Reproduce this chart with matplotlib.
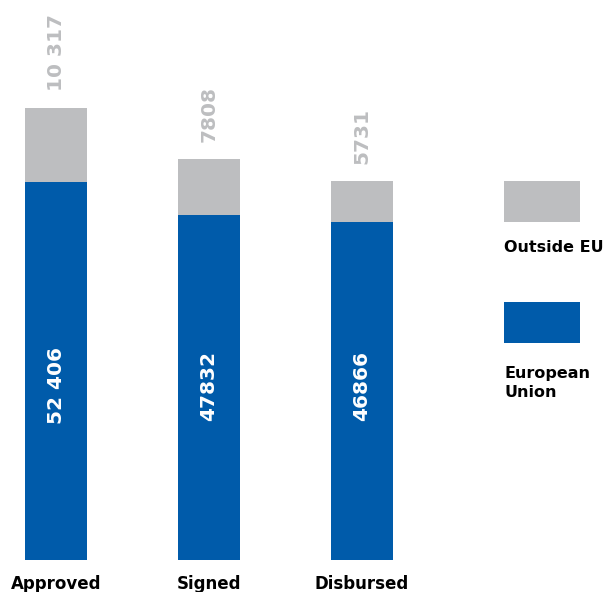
import matplotlib.pyplot as plt
from matplotlib.patches import Rectangle

# data
categories = ["Approved", "Signed", "Disbursed"]
eu_values = [52406, 47832, 46866]
outside_values = [10317, 7808, 5731]
eu_labels = ["52 406", "47832", "46866"]
outside_labels = ["10 317", "7808", "5731"]

BLUE = "#005BAA"
GREY = "#BDBEC0"

W, H = 611, 592
fig = plt.figure(figsize=(W / 100, H / 100), dpi=100)
# axes: bottom at 32 px, spans full width
ax = fig.add_axes([0, 32 / H, 1, (H - 32) / H])
ax.set_xlim(-56 / 153, (W - 56) / 153)
ax.set_ylim(0, 560 * 138.7)
ax.axis("off")

x = range(len(categories))
bw = 62 / 153
ax.bar(x, eu_values, width=bw, color=BLUE)
ax.bar(x, outside_values, width=bw, bottom=eu_values, color=GREY)

font = "DejaVu Sans"
for i in x:
    ax.text(i, 24200, eu_labels[i], rotation=90, ha="center", va="center",
            color="white", fontsize=14.5, fontweight="bold", family=font)
    ax.annotate(outside_labels[i], (i, eu_values[i] + outside_values[i]),
                xytext=(0, 12), textcoords="offset points", rotation=90,
                ha="center", va="bottom", color=GREY, fontsize=14.5,
                fontweight="bold", family=font)
    ax.annotate(categories[i], (i, 0), xytext=(0, -17), textcoords="offset points",
                ha="center", va="center", fontsize=12, fontweight="bold",
                family=font, annotation_clip=False)

# legend drawn by hand at the right
def px_rect(x0, y0, x1, y1, color):
    fig.add_artist(Rectangle((x0 / W, 1 - y1 / H), (x1 - x0) / W, (y1 - y0) / H,
                             transform=fig.transFigure, color=color, lw=0))

px_rect(504, 181, 580, 222, GREY)
px_rect(504, 302, 580, 343, BLUE)
fig.text(504 / W, 1 - 252 / H, "Outside EU", ha="left", va="baseline",
         fontsize=11.5, fontweight="bold", family=font)
fig.text(504 / W, 1 - 397 / H, "European\nUnion", ha="left", va="baseline",
         fontsize=11.5, fontweight="bold", family=font, linespacing=1.35)

fig.savefig("out.png", dpi=100, facecolor="white")
